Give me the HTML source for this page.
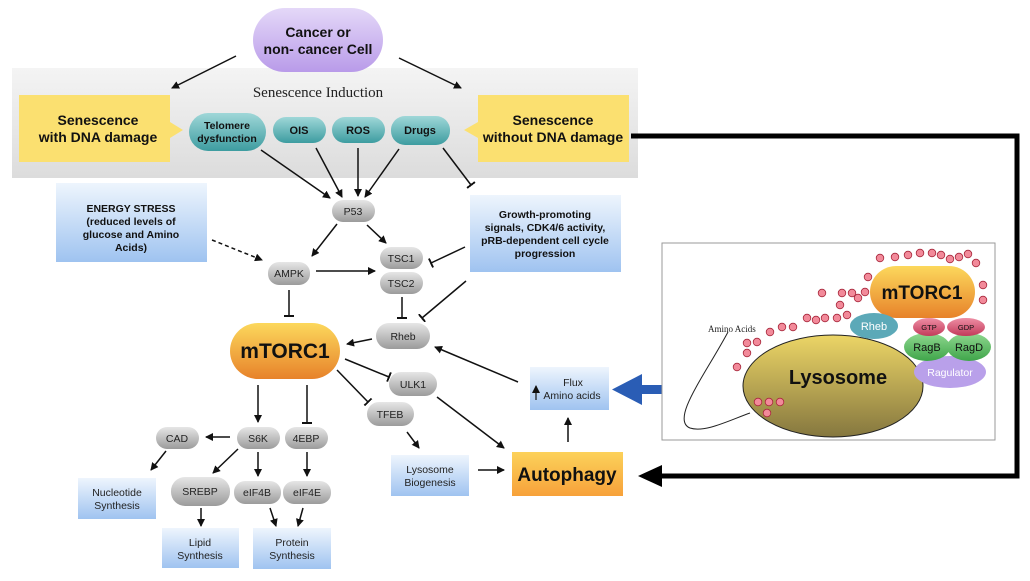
<!DOCTYPE html>
<html><head><meta charset="utf-8"><style>
html,body{margin:0;padding:0;background:#fff;}
svg{display:block;font-family:"Liberation Sans",sans-serif;}
</style></head><body>
<svg width="1030" height="581" viewBox="0 0 1030 581" xmlns="http://www.w3.org/2000/svg">
<defs>
<linearGradient id="band" x1="0" y1="0" x2="0" y2="1"><stop offset="0" stop-color="#f4f4f4"/><stop offset="1" stop-color="#dcdcdc"/></linearGradient>
<linearGradient id="purp" x1="0" y1="0" x2="0" y2="1"><stop offset="0" stop-color="#e4d8f8"/><stop offset="1" stop-color="#b99be9"/></linearGradient>
<linearGradient id="teal" x1="0" y1="0" x2="0" y2="1"><stop offset="0" stop-color="#9fd7d8"/><stop offset="1" stop-color="#3d9ca0"/></linearGradient>
<linearGradient id="gray" x1="0" y1="0" x2="0" y2="1"><stop offset="0" stop-color="#e6e6e6"/><stop offset="1" stop-color="#9b9b9b"/></linearGradient>
<linearGradient id="blue" x1="0" y1="0" x2="0" y2="1"><stop offset="0" stop-color="#eef5fd"/><stop offset="1" stop-color="#9fc3f0"/></linearGradient>
<linearGradient id="orange" x1="0" y1="0" x2="0" y2="1"><stop offset="0" stop-color="#fcd85c"/><stop offset="1" stop-color="#e7822a"/></linearGradient>
<linearGradient id="auto" x1="0" y1="0" x2="0" y2="1"><stop offset="0" stop-color="#fcd25a"/><stop offset="1" stop-color="#f7a13a"/></linearGradient>
<linearGradient id="lyso" x1="0" y1="0" x2="0" y2="1"><stop offset="0" stop-color="#ecd566"/><stop offset="1" stop-color="#85773f"/></linearGradient>
<linearGradient id="green" x1="0" y1="0" x2="0" y2="1"><stop offset="0" stop-color="#8fd88f"/><stop offset="1" stop-color="#3fa54a"/></linearGradient>
<linearGradient id="red" x1="0" y1="0" x2="0" y2="1"><stop offset="0" stop-color="#ee8fa5"/><stop offset="1" stop-color="#c23a5a"/></linearGradient>
<marker id="ar" markerWidth="8" markerHeight="8" refX="7" refY="4" orient="auto" markerUnits="userSpaceOnUse"><path d="M0,0 L8,4 L0,8 z" fill="#111"/></marker>
<marker id="tb" markerWidth="2" markerHeight="10" refX="1" refY="5" orient="auto" markerUnits="userSpaceOnUse"><rect x="0" y="0" width="2" height="10" fill="#111"/></marker>
</defs>

<!-- band -->
<rect x="12" y="68" width="626" height="110" fill="url(#band)"/>
<text x="318" y="97" text-anchor="middle" font-family="Liberation Serif,serif" font-size="15" fill="#222">Senescence Induction</text>

<!-- cancer pill -->
<rect x="253" y="8" width="130" height="64" rx="32" fill="url(#purp)"/>
<text x="318" y="37" text-anchor="middle" font-size="14" font-weight="bold" fill="#111">Cancer or</text>
<text x="318" y="54" text-anchor="middle" font-size="14" font-weight="bold" fill="#111">non- cancer Cell</text>

<!-- yellow boxes -->
<path d="M19,95 H170 V122 L183,130 L170,138 V162 H19 z" fill="#fbe070"/>
<text x="98" y="125" text-anchor="middle" font-size="14" font-weight="bold" fill="#111">Senescence</text>
<text x="98" y="142" text-anchor="middle" font-size="14" font-weight="bold" fill="#111">with DNA damage</text>
<path d="M478,95 H629 V162 H478 V138 L464,130 L478,122 z" fill="#fbe070"/>
<text x="553" y="125" text-anchor="middle" font-size="14" font-weight="bold" fill="#111">Senescence</text>
<text x="553" y="142" text-anchor="middle" font-size="14" font-weight="bold" fill="#111">without DNA damage</text>

<!-- teal pills -->
<rect x="189" y="113" width="77" height="38" rx="19" fill="url(#teal)"/>
<text x="227" y="129" text-anchor="middle" font-size="10.5" font-weight="bold" fill="#111">Telomere</text>
<text x="227" y="142" text-anchor="middle" font-size="10.5" font-weight="bold" fill="#111">dysfunction</text>
<rect x="273" y="117" width="53" height="26" rx="13" fill="url(#teal)"/>
<text x="299" y="134" text-anchor="middle" font-size="11" font-weight="bold" fill="#111">OIS</text>
<rect x="332" y="117" width="53" height="26" rx="13" fill="url(#teal)"/>
<text x="358" y="134" text-anchor="middle" font-size="11" font-weight="bold" fill="#111">ROS</text>
<rect x="391" y="116" width="59" height="29" rx="14" fill="url(#teal)"/>
<text x="420" y="134" text-anchor="middle" font-size="11" font-weight="bold" fill="#111">Drugs</text>

<!-- blue boxes -->
<rect x="56" y="183" width="151" height="79" fill="url(#blue)"/>
<g font-size="10.5" font-weight="bold" fill="#111" text-anchor="middle">
<text x="131" y="212">ENERGY STRESS</text>
<text x="131" y="225">(reduced levels of</text>
<text x="131" y="238">glucose  and Amino</text>
<text x="131" y="251">Acids)</text>
</g>
<rect x="470" y="195" width="151" height="77" fill="url(#blue)"/>
<g font-size="10.5" font-weight="bold" fill="#111" text-anchor="middle">
<text x="545" y="218">Growth-promoting</text>
<text x="545" y="231">signals, CDK4/6 activity,</text>
<text x="545" y="244">pRB-dependent cell cycle</text>
<text x="545" y="257">progression</text>
</g>
<rect x="530" y="367" width="79" height="43" fill="url(#blue)"/>
<text x="573" y="386" text-anchor="middle" font-size="10.5" fill="#222">Flux</text>
<text x="572" y="399" text-anchor="middle" font-size="10.5" fill="#222">Amino acids</text>
<line x1="536" y1="400" x2="536" y2="386" stroke="#111" stroke-width="1.2" marker-end="url(#ar)"/>
<rect x="391" y="455" width="78" height="41" fill="url(#blue)"/>
<text x="430" y="473" text-anchor="middle" font-size="10.5" fill="#222">Lysosome</text>
<text x="430" y="486" text-anchor="middle" font-size="10.5" fill="#222">Biogenesis</text>
<rect x="78" y="478" width="78" height="41" fill="url(#blue)"/>
<text x="117" y="496" text-anchor="middle" font-size="10.5" fill="#222">Nucleotide</text>
<text x="117" y="509" text-anchor="middle" font-size="10.5" fill="#222">Synthesis</text>
<rect x="162" y="528" width="77" height="40" fill="url(#blue)"/>
<text x="200" y="546" text-anchor="middle" font-size="10.5" fill="#222">Lipid</text>
<text x="200" y="559" text-anchor="middle" font-size="10.5" fill="#222">Synthesis</text>
<rect x="253" y="528" width="78" height="41" fill="url(#blue)"/>
<text x="292" y="546" text-anchor="middle" font-size="10.5" fill="#222">Protein</text>
<text x="292" y="559" text-anchor="middle" font-size="10.5" fill="#222">Synthesis</text>

<!-- gray pills -->
<g font-size="10.5" fill="#222" text-anchor="middle">
<rect x="332" y="200" width="43" height="22" rx="11" fill="url(#gray)"/><text x="353" y="215">P53</text>
<rect x="268" y="262" width="42" height="23" rx="11" fill="url(#gray)"/><text x="289" y="277">AMPK</text>
<rect x="380" y="247" width="43" height="22" rx="11" fill="url(#gray)"/><text x="401" y="262">TSC1</text>
<rect x="380" y="272" width="43" height="22" rx="11" fill="url(#gray)"/><text x="401" y="287">TSC2</text>
<rect x="376" y="323" width="54" height="26" rx="13" fill="url(#gray)"/><text x="403" y="340">Rheb</text>
<rect x="389" y="372" width="48" height="24" rx="12" fill="url(#gray)"/><text x="413" y="388">ULK1</text>
<rect x="367" y="402" width="47" height="24" rx="12" fill="url(#gray)"/><text x="390" y="418">TFEB</text>
<rect x="237" y="427" width="43" height="22" rx="11" fill="url(#gray)"/><text x="258" y="442">S6K</text>
<rect x="285" y="427" width="43" height="22" rx="11" fill="url(#gray)"/><text x="306" y="442">4EBP</text>
<rect x="156" y="427" width="43" height="22" rx="11" fill="url(#gray)"/><text x="177" y="442">CAD</text>
<rect x="171" y="477" width="59" height="29" rx="14" fill="url(#gray)"/><text x="200" y="495">SREBP</text>
<rect x="234" y="481" width="47" height="23" rx="11" fill="url(#gray)"/><text x="257" y="496">eIF4B</text>
<rect x="283" y="481" width="48" height="23" rx="11" fill="url(#gray)"/><text x="307" y="496">eIF4E</text>
</g>

<!-- mTORC1 main -->
<rect x="230" y="323" width="110" height="56" rx="28" fill="url(#orange)"/>
<text x="285" y="358" text-anchor="middle" font-size="21" font-weight="bold" fill="#111">mTORC1</text>
<!-- autophagy -->
<rect x="512" y="452" width="111" height="44" fill="url(#auto)"/>
<text x="567" y="481" text-anchor="middle" font-size="19" font-weight="bold" fill="#111">Autophagy</text>

<!-- connectors -->
<g stroke="#111" stroke-width="1.5" fill="none">
<line x1="236" y1="56" x2="172" y2="88" marker-end="url(#ar)"/>
<line x1="399" y1="58" x2="461" y2="88" marker-end="url(#ar)"/>
<line x1="261" y1="150" x2="330" y2="198" marker-end="url(#ar)"/>
<line x1="316" y1="148" x2="342" y2="197" marker-end="url(#ar)"/>
<line x1="358" y1="148" x2="358" y2="196" marker-end="url(#ar)"/>
<line x1="399" y1="149" x2="365" y2="197" marker-end="url(#ar)"/>
<line x1="443" y1="148" x2="471" y2="185" marker-end="url(#tb)"/>
<line x1="212" y1="240" x2="262" y2="260" stroke-dasharray="4,3" marker-end="url(#ar)"/>
<line x1="337" y1="224" x2="312" y2="256" marker-end="url(#ar)"/>
<line x1="367" y1="225" x2="386" y2="243" marker-end="url(#ar)"/>
<line x1="316" y1="271" x2="375" y2="271" marker-end="url(#ar)"/>
<line x1="465" y1="247" x2="431" y2="263" marker-end="url(#tb)"/>
<line x1="289" y1="290" x2="289" y2="316" marker-end="url(#tb)"/>
<line x1="402" y1="297" x2="402" y2="318" marker-end="url(#tb)"/>
<line x1="466" y1="281" x2="422" y2="318" marker-end="url(#tb)"/>
<line x1="372" y1="339" x2="347" y2="344" marker-end="url(#ar)"/>
<line x1="345" y1="359" x2="389" y2="377" marker-end="url(#tb)"/>
<line x1="337" y1="370" x2="368" y2="402" marker-end="url(#tb)"/>
<line x1="518" y1="382" x2="435" y2="347" marker-end="url(#ar)"/>
<line x1="437" y1="397" x2="504" y2="448" marker-end="url(#ar)"/>
<line x1="407" y1="432" x2="419" y2="448" marker-end="url(#ar)"/>
<line x1="478" y1="470" x2="504" y2="470" marker-end="url(#ar)"/>
<line x1="568" y1="442" x2="568" y2="418" marker-end="url(#ar)"/>
<line x1="258" y1="385" x2="258" y2="422" marker-end="url(#ar)"/>
<line x1="307" y1="385" x2="307" y2="423" marker-end="url(#tb)"/>
<line x1="230" y1="437" x2="206" y2="437" marker-end="url(#ar)"/>
<line x1="166" y1="451" x2="151" y2="470" marker-end="url(#ar)"/>
<line x1="238" y1="449" x2="213" y2="473" marker-end="url(#ar)"/>
<line x1="258" y1="452" x2="258" y2="476" marker-end="url(#ar)"/>
<line x1="307" y1="452" x2="307" y2="476" marker-end="url(#ar)"/>
<line x1="201" y1="508" x2="201" y2="526" marker-end="url(#ar)"/>
<line x1="270" y1="508" x2="276" y2="526" marker-end="url(#ar)"/>
<line x1="303" y1="508" x2="298" y2="526" marker-end="url(#ar)"/>
</g>

<!-- thick black connector -->
<polyline points="631,136 1017,136 1017,476 660,476" fill="none" stroke="#000" stroke-width="5"/>
<path d="M638,476 L662,465 L662,487 z" fill="#000"/>

<!-- blue big arrow -->
<rect x="640" y="385" width="40" height="9" fill="#2a5db5"/>
<path d="M612,389.5 L642,374 L642,405 z" fill="#2a5db5"/>

<!-- inset -->
<rect x="662" y="243" width="333" height="197" fill="#fff" stroke="#999" stroke-width="1"/>
<path d="M728,332 C705,375 670,420 690,428 C705,433 730,420 750,413" fill="none" stroke="#222" stroke-width="1"/>
<text x="708" y="332" font-family="Liberation Serif,serif" font-size="9" fill="#222">Amino Acids</text>
<ellipse cx="833" cy="386" rx="90" ry="51" fill="url(#lyso)" stroke="#222" stroke-width="1"/>
<text x="838" y="384" text-anchor="middle" font-size="20" font-weight="bold" fill="#111">Lysosome</text>
<ellipse cx="950" cy="372" rx="36" ry="16" fill="#b9a0ea"/>
<text x="950" y="376" text-anchor="middle" font-size="10.5" fill="#fff">Ragulator</text>
<ellipse cx="927" cy="347" rx="23" ry="14" fill="url(#green)"/>
<text x="927" y="351" text-anchor="middle" font-size="11" fill="#111">RagB</text>
<ellipse cx="969" cy="347" rx="22" ry="14" fill="url(#green)"/>
<text x="969" y="351" text-anchor="middle" font-size="11" fill="#111">RagD</text>
<ellipse cx="929" cy="327" rx="16" ry="9" fill="url(#red)"/>
<text x="929" y="330" text-anchor="middle" font-size="7.5" fill="#111">GTP</text>
<ellipse cx="966" cy="327" rx="19" ry="9" fill="url(#red)"/>
<text x="966" y="330" text-anchor="middle" font-size="7.5" fill="#111">GDP</text>
<rect x="870" y="266" width="105" height="52" rx="26" fill="url(#orange)"/>
<text x="922" y="299" text-anchor="middle" font-size="19" font-weight="bold" fill="#111">mTORC1</text>
<ellipse cx="874" cy="326" rx="24" ry="13" fill="#5ca9b8"/>
<text x="874" y="330" text-anchor="middle" font-size="11" fill="#fff">Rheb</text>
<g fill="#f28a9a" stroke="#a8283c" stroke-width="0.8">
<circle cx="880" cy="258" r="3.8"/><circle cx="895" cy="257" r="3.8"/><circle cx="908" cy="255" r="3.8"/><circle cx="920" cy="253" r="3.8"/><circle cx="932" cy="253" r="3.8"/><circle cx="941" cy="255" r="3.8"/><circle cx="950" cy="259" r="3.8"/><circle cx="959" cy="257" r="3.8"/><circle cx="968" cy="254" r="3.8"/><circle cx="976" cy="263" r="3.8"/>
<circle cx="983" cy="285" r="3.8"/><circle cx="983" cy="300" r="3.8"/>
<circle cx="868" cy="277" r="3.8"/><circle cx="865" cy="292" r="3.8"/><circle cx="858" cy="298" r="3.8"/><circle cx="852" cy="293" r="3.8"/><circle cx="842" cy="293" r="3.8"/><circle cx="840" cy="305" r="3.8"/><circle cx="822" cy="293" r="3.8"/>
<circle cx="847" cy="315" r="3.8"/><circle cx="837" cy="318" r="3.8"/><circle cx="825" cy="318" r="3.8"/><circle cx="816" cy="320" r="3.8"/><circle cx="807" cy="318" r="3.8"/><circle cx="793" cy="327" r="3.8"/><circle cx="782" cy="327" r="3.8"/><circle cx="770" cy="332" r="3.8"/>
<circle cx="757" cy="342" r="3.8"/><circle cx="747" cy="343" r="3.8"/><circle cx="747" cy="353" r="3.8"/><circle cx="737" cy="367" r="3.8"/>
<circle cx="758" cy="402" r="3.8"/><circle cx="769" cy="402" r="3.8"/><circle cx="780" cy="402" r="3.8"/><circle cx="767" cy="413" r="3.8"/>
</g>
</svg>
</body></html>
